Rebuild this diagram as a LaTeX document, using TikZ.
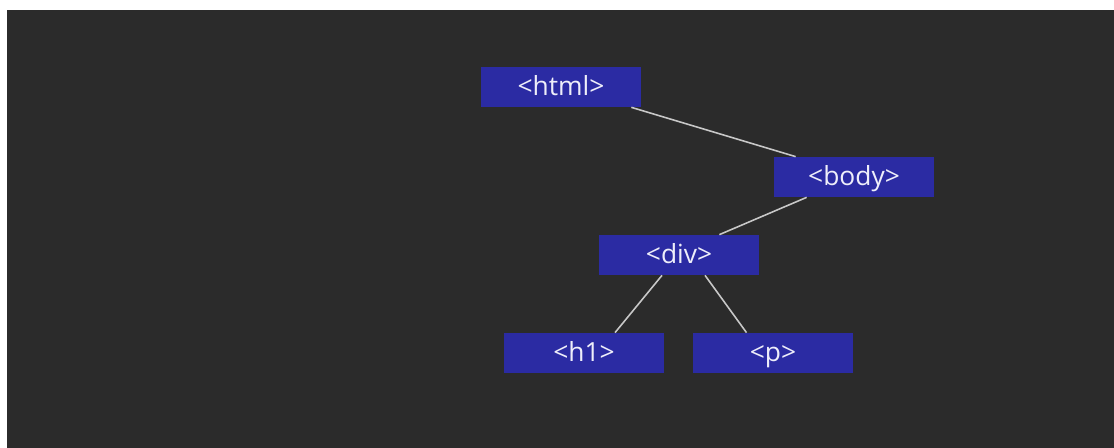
\documentclass[tikz,border=0pt]{standalone}
\usepackage{fontspec}
\setmainfont{Open Sans}
\usepackage{tikz}

\definecolor{bgdark}{HTML}{2B2B2B}
\definecolor{tagblue}{HTML}{2B2BA3}
\definecolor{taglink}{HTML}{C8C8C8}
\definecolor{tagtext}{HTML}{EEEEFA}

\begin{document}
\begin{tikzpicture}[x=0.02cm,y=-0.02cm,
  every node/.style={font=\fontsize{15}{18}\selectfont},
  tag/.style={fill=tagblue,text=tagtext,minimum width=3.2cm,minimum height=0.8cm,
    text height=12pt,text depth=2.3pt,inner sep=0pt},
  link/.style={draw=taglink,line width=0.9pt}]
  \fill[white] (0,0) rectangle (1114,448);
  \fill[bgdark] (7,10) rectangle (1114,448);
  \node[tag] (html) at (561,87) {<html>};
  \node[tag] (body) at (854,177) {<body>};
  \node[tag] (div) at (679,255) {<div>};
  \node[tag] (h1) at (584,353) {<h1>};
  \node[tag] (p) at (773,353) {<p>};
  \draw[link] ([xshift=-0.2cm]html.south east) -- ([xshift=0.44cm]body.north west);
  \draw[link] ([xshift=0.66cm]body.south west) -- ([xshift=-0.8cm]div.north east);
  \draw[link] ([xshift=-0.34cm]div.south) -- ([xshift=0.62cm]h1.north);
  \draw[link] ([xshift=0.52cm]div.south) -- ([xshift=-0.53cm]p.north);
\end{tikzpicture}
\end{document}
